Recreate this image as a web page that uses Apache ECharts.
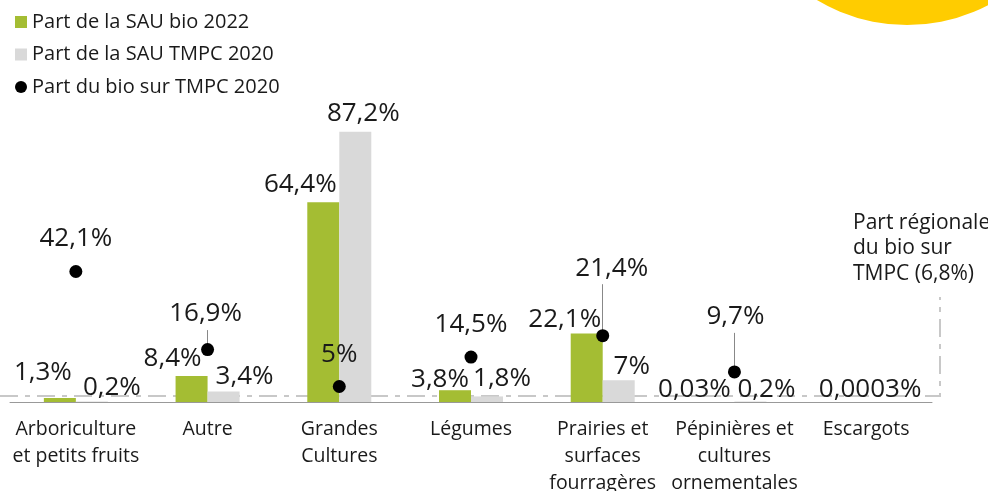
<!DOCTYPE html>
<html>
<head>
<meta charset="utf-8">
<script src="https://cdn.jsdelivr.net/npm/echarts@6/dist/echarts.min.js"></script>
<style>
html, body { margin: 0; padding: 0; background: #fff; }
#chart { width: 988px; height: 491px; }
</style>
</head>
<body>
<div id="chart"></div>
<script>
// données
const categories = ['Arboriculture\net petits fruits', 'Autre', 'Grandes\nCultures', 'Légumes', 'Prairies et\nsurfaces\nfourragères', 'Pépinières et\ncultures\nornementales', 'Escargots']
const bioShare2022 = [1.3, 8.4, 64.4, 3.8, 22.1, 0.03, 0.0003]
const tmpcShare2020 = [0.2, 3.4, 87.2, 1.8, 7, 0.2, null]
const bioOnTmpc2020 = [42.1, 16.9, 5, 14.5, 21.4, 9.7, null]
const regionalShare = 6.8

// décalages des étiquettes (px)
const bioLabelOffset = [[-17, -7], [-19, 1], [-23, 0], [-15, 7], [-22, 4], [-24, 6], [20, 6]]
const tmpcLabelOffset = [[20, 4], [21, 3], [8, 0], [15, 0], [13, 4], [16, 6], [0, 0]]
const dotLabelOffset = [[0, -8], [-2, -12], [0, -7], [0, -8], [9, -43], [1, -31], [0, 0]]
// traits de rappel (valeur haute du trait)
const leaderTop = [null, 23.2, null, null, 38, 22.3, null]

const fmt = v => String(v).replace('.', ',') + '%'
const font = 'Open Sans'
const txt = '#1a1a1a'

const myChart = echarts.init(document.getElementById('chart'))

const leaderLines = []
leaderTop.forEach((top, i) => {
  if (top !== null) leaderLines.push([{ coord: [i, bioOnTmpc2020[i]] }, { coord: [i, top] }])
})

const valueLabel = { show: true, position: 'top', distance: 5, fontSize: 26, color: txt, fontFamily: font }

const option = {
  animation: false,
  backgroundColor: '#fff',
  textStyle: { fontFamily: font },
  legend: {
    orient: 'vertical',
    left: 10,
    top: 6,
    itemWidth: 12,
    itemHeight: 12,
    itemGap: 10.5,
    textStyle: { fontSize: 20, color: txt, fontFamily: font, lineHeight: 22 },
    data: [
      { name: 'Part de la SAU bio 2022', icon: 'rect' },
      { name: 'Part de la SAU TMPC 2020', icon: 'rect' },
      { name: 'Part du bio sur TMPC 2020', icon: 'circle', itemStyle: { color: '#000', opacity: 1 } }
    ]
  },
  grid: { left: 10, right: 56, top: 92, bottom: 89, containLabel: false, outerBoundsMode: 'none' },
  xAxis: {
    type: 'category',
    data: categories,
    axisLine: { lineStyle: { color: '#999', width: 1 } },
    axisTick: { show: false },
    axisLabel: { interval: 0, color: txt, fontSize: 19.5, lineHeight: 27, margin: 14, fontFamily: font }
  },
  yAxis: { type: 'value', min: 0, max: 100, show: false, splitLine: { show: false } },
  series: [
    {
      name: 'Part de la SAU bio 2022',
      type: 'bar',
      barWidth: 32,
      barGap: '0%',
      itemStyle: { color: '#a4bd33' },
      data: bioShare2022.map((v, i) => ({
        value: v,
        label: { offset: bioLabelOffset[i] }
      })),
      label: Object.assign({}, valueLabel, { formatter: p => fmt(p.value) })
    },
    {
      name: 'Part de la SAU TMPC 2020',
      type: 'bar',
      barWidth: 32,
      barGap: '0%',
      itemStyle: { color: '#d9d9d9' },
      data: tmpcShare2020.map((v, i) => ({
        value: v,
        label: { offset: tmpcLabelOffset[i] }
      })),
      label: Object.assign({}, valueLabel, { formatter: p => p.value == null ? '' : fmt(p.value) })
    },
    {
      name: 'Part du bio sur TMPC 2020',
      type: 'scatter',
      symbol: 'circle',
      symbolSize: 13,
      itemStyle: { color: '#000', opacity: 1 },
      z: 5,
      data: bioOnTmpc2020.map((v, i) => ({
        value: v,
        label: { offset: dotLabelOffset[i] }
      })),
      label: Object.assign({}, valueLabel, { formatter: p => fmt(p.value) }),
      markLine: {
        silent: true,
        symbol: ['none', 'none'],
        label: { show: false },
        lineStyle: { color: '#888', width: 1, type: 'solid' },
        data: leaderLines
      }
    }
  ]
}
myChart.setOption(option)

// trait mixte + note de la part régionale
const yLine = myChart.convertToPixel({ yAxisIndex: 0 }, 1.9)
const xEnd = 988 - 56 + 8
myChart.setOption({
  graphic: [
    { type: 'circle', shape: { cx: 907, cy: -150, r: 175 }, style: { fill: '#ffcc00' }, silent: true },
    {
      type: 'polyline', z: 1,
      shape: { points: [[0, yLine], [xEnd, yLine], [xEnd, 297]] },
      style: { stroke: '#c8c8c8', lineWidth: 2, lineDash: [18, 7, 5, 7], fill: null }
    },
    {
      type: 'text', left: 853, top: 210,
      style: { text: 'Part régionale\ndu bio sur\nTMPC (' + fmt(regionalShare) + ')', fill: txt, font: '21px "' + font + '"', lineHeight: 25.5 }
    }
  ]
})
</script>
</body>
</html>
